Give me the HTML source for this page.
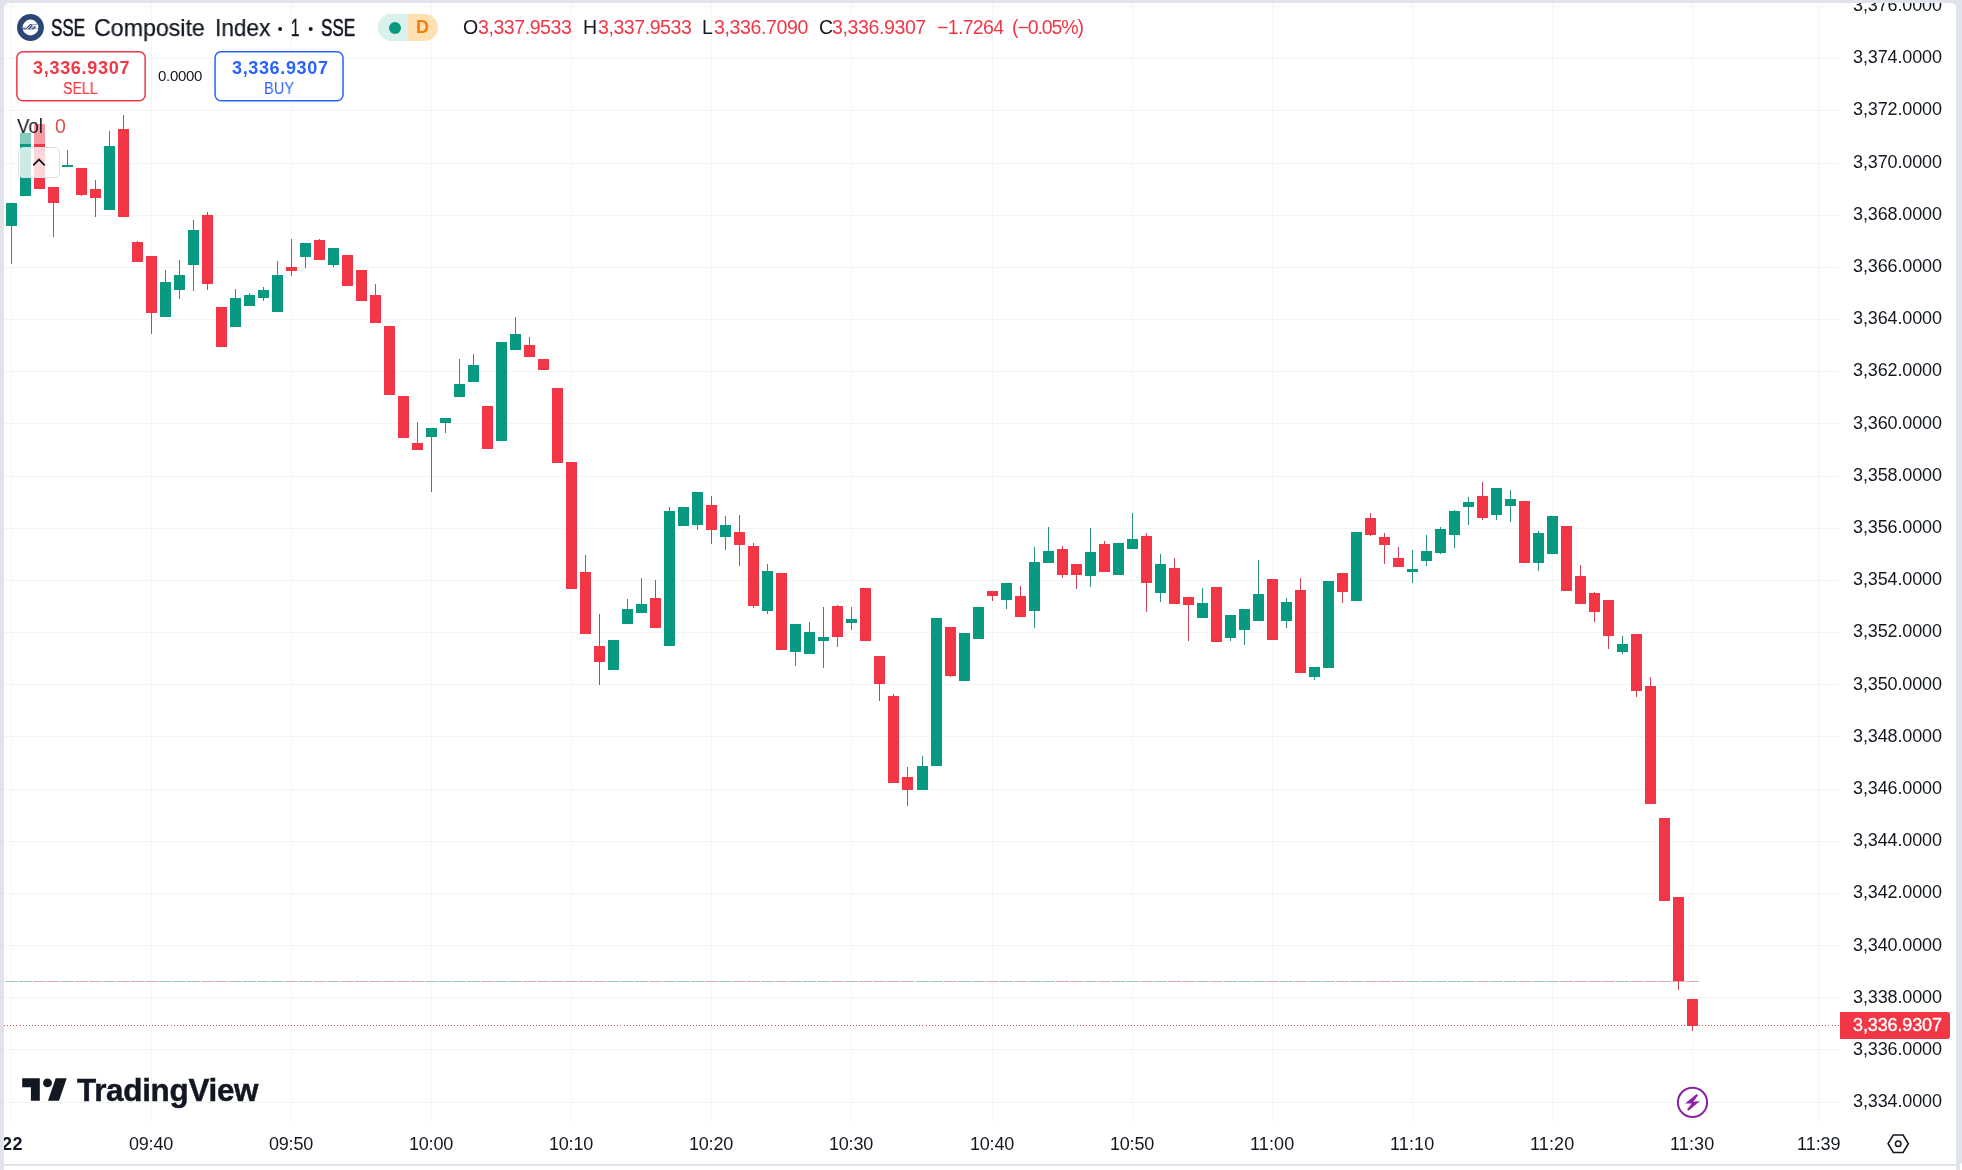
<!DOCTYPE html>
<html lang="en"><head><meta charset="utf-8"><title>SSE Composite Index chart</title>
<style>
html,body{margin:0;padding:0}
body{width:1962px;height:1170px;background:#e0e3eb;position:relative;overflow:hidden;font-family:"Liberation Sans",sans-serif;color:#131722}
.t{position:absolute;white-space:nowrap;line-height:1;display:block;will-change:transform}
.abs{position:absolute}
svg{position:absolute;left:0;top:0}
</style></head><body>
<div class="abs" style="left:4px;top:3px;width:1952px;height:1161px;background:#fff;border-radius:5px 5px 0 0"></div>
<div class="abs" style="left:4px;top:1165.5px;width:1952px;height:5px;background:#fff"></div>
<div class="abs" style="left:1959.5px;top:1163px;width:4px;height:8px;background:#fff;border-radius:3px 0 0 0"></div>
<svg width="1962" height="1170" viewBox="0 0 1962 1170" shape-rendering="crispEdges">
<g fill="#f3f4f4">
<rect x="4" y="6" width="1835" height="1"/>
<rect x="4" y="58" width="1835" height="1"/>
<rect x="4" y="110" width="1835" height="1"/>
<rect x="4" y="163" width="1835" height="1"/>
<rect x="4" y="215" width="1835" height="1"/>
<rect x="4" y="267" width="1835" height="1"/>
<rect x="4" y="319" width="1835" height="1"/>
<rect x="4" y="371" width="1835" height="1"/>
<rect x="4" y="423" width="1835" height="1"/>
<rect x="4" y="476" width="1835" height="1"/>
<rect x="4" y="528" width="1835" height="1"/>
<rect x="4" y="580" width="1835" height="1"/>
<rect x="4" y="632" width="1835" height="1"/>
<rect x="4" y="684" width="1835" height="1"/>
<rect x="4" y="736" width="1835" height="1"/>
<rect x="4" y="789" width="1835" height="1"/>
<rect x="4" y="841" width="1835" height="1"/>
<rect x="4" y="893" width="1835" height="1"/>
<rect x="4" y="945" width="1835" height="1"/>
<rect x="4" y="997" width="1835" height="1"/>
<rect x="4" y="1049" width="1835" height="1"/>
<rect x="4" y="1102" width="1835" height="1"/>
<rect x="11" y="3" width="1" height="1119"/>
<rect x="151" y="3" width="1" height="1119"/>
<rect x="291" y="3" width="1" height="1119"/>
<rect x="431" y="3" width="1" height="1119"/>
<rect x="571" y="3" width="1" height="1119"/>
<rect x="711" y="3" width="1" height="1119"/>
<rect x="851" y="3" width="1" height="1119"/>
<rect x="992" y="3" width="1" height="1119"/>
<rect x="1132" y="3" width="1" height="1119"/>
<rect x="1272" y="3" width="1" height="1119"/>
<rect x="1412" y="3" width="1" height="1119"/>
<rect x="1552" y="3" width="1" height="1119"/>
<rect x="1692" y="3" width="1" height="1119"/>
<rect x="1818" y="3" width="1" height="1119"/>
</g>
<rect x="5" y="981" width="13" height="1" fill="#9ac7c0"/>
<rect x="19" y="981" width="13" height="1" fill="#9ac7c0"/>
<rect x="33" y="981" width="13" height="1" fill="#dfaab0"/>
<rect x="47" y="981" width="13" height="1" fill="#dfaab0"/>
<rect x="61" y="981" width="13" height="1" fill="#9ac7c0"/>
<rect x="75" y="981" width="13" height="1" fill="#dfaab0"/>
<rect x="89" y="981" width="13" height="1" fill="#dfaab0"/>
<rect x="103" y="981" width="13" height="1" fill="#9ac7c0"/>
<rect x="117" y="981" width="13" height="1" fill="#dfaab0"/>
<rect x="131" y="981" width="13" height="1" fill="#dfaab0"/>
<rect x="145" y="981" width="13" height="1" fill="#dfaab0"/>
<rect x="159" y="981" width="13" height="1" fill="#9ac7c0"/>
<rect x="173" y="981" width="13" height="1" fill="#9ac7c0"/>
<rect x="187" y="981" width="13" height="1" fill="#9ac7c0"/>
<rect x="201" y="981" width="13" height="1" fill="#dfaab0"/>
<rect x="215" y="981" width="13" height="1" fill="#dfaab0"/>
<rect x="229" y="981" width="13" height="1" fill="#9ac7c0"/>
<rect x="243" y="981" width="13" height="1" fill="#9ac7c0"/>
<rect x="257" y="981" width="13" height="1" fill="#9ac7c0"/>
<rect x="271" y="981" width="13" height="1" fill="#9ac7c0"/>
<rect x="285" y="981" width="13" height="1" fill="#dfaab0"/>
<rect x="299" y="981" width="13" height="1" fill="#9ac7c0"/>
<rect x="313" y="981" width="13" height="1" fill="#dfaab0"/>
<rect x="327" y="981" width="13" height="1" fill="#9ac7c0"/>
<rect x="341" y="981" width="13" height="1" fill="#dfaab0"/>
<rect x="355" y="981" width="13" height="1" fill="#dfaab0"/>
<rect x="369" y="981" width="13" height="1" fill="#dfaab0"/>
<rect x="383" y="981" width="13" height="1" fill="#dfaab0"/>
<rect x="397" y="981" width="13" height="1" fill="#dfaab0"/>
<rect x="411" y="981" width="13" height="1" fill="#dfaab0"/>
<rect x="425" y="981" width="13" height="1" fill="#9ac7c0"/>
<rect x="439" y="981" width="13" height="1" fill="#9ac7c0"/>
<rect x="453" y="981" width="13" height="1" fill="#9ac7c0"/>
<rect x="467" y="981" width="13" height="1" fill="#9ac7c0"/>
<rect x="481" y="981" width="13" height="1" fill="#dfaab0"/>
<rect x="495" y="981" width="13" height="1" fill="#9ac7c0"/>
<rect x="509" y="981" width="13" height="1" fill="#9ac7c0"/>
<rect x="523" y="981" width="13" height="1" fill="#dfaab0"/>
<rect x="537" y="981" width="13" height="1" fill="#dfaab0"/>
<rect x="551" y="981" width="13" height="1" fill="#dfaab0"/>
<rect x="565" y="981" width="13" height="1" fill="#dfaab0"/>
<rect x="579" y="981" width="13" height="1" fill="#dfaab0"/>
<rect x="593" y="981" width="13" height="1" fill="#dfaab0"/>
<rect x="607" y="981" width="13" height="1" fill="#9ac7c0"/>
<rect x="621" y="981" width="13" height="1" fill="#9ac7c0"/>
<rect x="635" y="981" width="13" height="1" fill="#9ac7c0"/>
<rect x="649" y="981" width="13" height="1" fill="#dfaab0"/>
<rect x="663" y="981" width="13" height="1" fill="#9ac7c0"/>
<rect x="677" y="981" width="13" height="1" fill="#9ac7c0"/>
<rect x="691" y="981" width="13" height="1" fill="#9ac7c0"/>
<rect x="705" y="981" width="13" height="1" fill="#dfaab0"/>
<rect x="719" y="981" width="13" height="1" fill="#9ac7c0"/>
<rect x="733" y="981" width="13" height="1" fill="#dfaab0"/>
<rect x="747" y="981" width="13" height="1" fill="#dfaab0"/>
<rect x="761" y="981" width="13" height="1" fill="#9ac7c0"/>
<rect x="775" y="981" width="13" height="1" fill="#dfaab0"/>
<rect x="789" y="981" width="13" height="1" fill="#9ac7c0"/>
<rect x="803" y="981" width="13" height="1" fill="#9ac7c0"/>
<rect x="817" y="981" width="13" height="1" fill="#9ac7c0"/>
<rect x="831" y="981" width="13" height="1" fill="#dfaab0"/>
<rect x="845" y="981" width="13" height="1" fill="#9ac7c0"/>
<rect x="859" y="981" width="13" height="1" fill="#dfaab0"/>
<rect x="873" y="981" width="13" height="1" fill="#dfaab0"/>
<rect x="887" y="981" width="13" height="1" fill="#dfaab0"/>
<rect x="901" y="981" width="13" height="1" fill="#dfaab0"/>
<rect x="916" y="981" width="13" height="1" fill="#9ac7c0"/>
<rect x="930" y="981" width="13" height="1" fill="#9ac7c0"/>
<rect x="944" y="981" width="13" height="1" fill="#dfaab0"/>
<rect x="958" y="981" width="13" height="1" fill="#9ac7c0"/>
<rect x="972" y="981" width="13" height="1" fill="#9ac7c0"/>
<rect x="986" y="981" width="13" height="1" fill="#dfaab0"/>
<rect x="1000" y="981" width="13" height="1" fill="#9ac7c0"/>
<rect x="1014" y="981" width="13" height="1" fill="#dfaab0"/>
<rect x="1028" y="981" width="13" height="1" fill="#9ac7c0"/>
<rect x="1042" y="981" width="13" height="1" fill="#9ac7c0"/>
<rect x="1056" y="981" width="13" height="1" fill="#dfaab0"/>
<rect x="1070" y="981" width="13" height="1" fill="#dfaab0"/>
<rect x="1084" y="981" width="13" height="1" fill="#9ac7c0"/>
<rect x="1098" y="981" width="13" height="1" fill="#dfaab0"/>
<rect x="1112" y="981" width="13" height="1" fill="#9ac7c0"/>
<rect x="1126" y="981" width="13" height="1" fill="#9ac7c0"/>
<rect x="1140" y="981" width="13" height="1" fill="#dfaab0"/>
<rect x="1154" y="981" width="13" height="1" fill="#9ac7c0"/>
<rect x="1168" y="981" width="13" height="1" fill="#dfaab0"/>
<rect x="1182" y="981" width="13" height="1" fill="#dfaab0"/>
<rect x="1196" y="981" width="13" height="1" fill="#9ac7c0"/>
<rect x="1210" y="981" width="13" height="1" fill="#dfaab0"/>
<rect x="1224" y="981" width="13" height="1" fill="#9ac7c0"/>
<rect x="1238" y="981" width="13" height="1" fill="#9ac7c0"/>
<rect x="1252" y="981" width="13" height="1" fill="#9ac7c0"/>
<rect x="1266" y="981" width="13" height="1" fill="#dfaab0"/>
<rect x="1280" y="981" width="13" height="1" fill="#9ac7c0"/>
<rect x="1294" y="981" width="13" height="1" fill="#dfaab0"/>
<rect x="1308" y="981" width="13" height="1" fill="#9ac7c0"/>
<rect x="1322" y="981" width="13" height="1" fill="#9ac7c0"/>
<rect x="1336" y="981" width="13" height="1" fill="#dfaab0"/>
<rect x="1350" y="981" width="13" height="1" fill="#9ac7c0"/>
<rect x="1364" y="981" width="13" height="1" fill="#dfaab0"/>
<rect x="1378" y="981" width="13" height="1" fill="#dfaab0"/>
<rect x="1392" y="981" width="13" height="1" fill="#dfaab0"/>
<rect x="1406" y="981" width="13" height="1" fill="#9ac7c0"/>
<rect x="1420" y="981" width="13" height="1" fill="#9ac7c0"/>
<rect x="1434" y="981" width="13" height="1" fill="#9ac7c0"/>
<rect x="1448" y="981" width="13" height="1" fill="#9ac7c0"/>
<rect x="1462" y="981" width="13" height="1" fill="#9ac7c0"/>
<rect x="1476" y="981" width="13" height="1" fill="#dfaab0"/>
<rect x="1490" y="981" width="13" height="1" fill="#9ac7c0"/>
<rect x="1504" y="981" width="13" height="1" fill="#9ac7c0"/>
<rect x="1518" y="981" width="13" height="1" fill="#dfaab0"/>
<rect x="1532" y="981" width="13" height="1" fill="#9ac7c0"/>
<rect x="1546" y="981" width="13" height="1" fill="#9ac7c0"/>
<rect x="1560" y="981" width="13" height="1" fill="#dfaab0"/>
<rect x="1574" y="981" width="13" height="1" fill="#dfaab0"/>
<rect x="1588" y="981" width="13" height="1" fill="#dfaab0"/>
<rect x="1602" y="981" width="13" height="1" fill="#dfaab0"/>
<rect x="1616" y="981" width="13" height="1" fill="#9ac7c0"/>
<rect x="1630" y="981" width="13" height="1" fill="#dfaab0"/>
<rect x="1644" y="981" width="13" height="1" fill="#dfaab0"/>
<rect x="1658" y="981" width="13" height="1" fill="#dfaab0"/>
<rect x="1672" y="981" width="13" height="1" fill="#dfaab0"/>
<rect x="1686" y="981" width="13" height="1" fill="#dfaab0"/>
<g fill="#089981">
<rect x="11" y="226" width="1" height="38" fill="#2a8f7c"/>
<rect x="6" y="203" width="11" height="23"/>
<rect x="20" y="133" width="11" height="63"/>
<rect x="67" y="150" width="1" height="15" fill="#2a8f7c"/>
<rect x="62" y="165" width="11" height="2"/>
<rect x="109" y="131" width="1" height="15" fill="#2a8f7c"/>
<rect x="104" y="146" width="11" height="64"/>
<rect x="165" y="270" width="1" height="12" fill="#2a8f7c"/>
<rect x="160" y="282" width="11" height="35"/>
<rect x="179" y="260" width="1" height="15" fill="#2a8f7c"/>
<rect x="179" y="290" width="1" height="9" fill="#2a8f7c"/>
<rect x="174" y="275" width="11" height="15"/>
<rect x="193" y="220" width="1" height="10" fill="#2a8f7c"/>
<rect x="193" y="265" width="1" height="26" fill="#2a8f7c"/>
<rect x="188" y="230" width="11" height="35"/>
<rect x="235" y="289" width="1" height="9" fill="#2a8f7c"/>
<rect x="230" y="298" width="11" height="29"/>
<rect x="249" y="293" width="1" height="2" fill="#2a8f7c"/>
<rect x="244" y="295" width="11" height="11"/>
<rect x="263" y="287" width="1" height="3" fill="#2a8f7c"/>
<rect x="263" y="298" width="1" height="3" fill="#2a8f7c"/>
<rect x="258" y="290" width="11" height="8"/>
<rect x="277" y="261" width="1" height="14" fill="#2a8f7c"/>
<rect x="272" y="275" width="11" height="37"/>
<rect x="305" y="257" width="1" height="11" fill="#2a8f7c"/>
<rect x="300" y="243" width="11" height="14"/>
<rect x="333" y="265" width="1" height="2" fill="#2a8f7c"/>
<rect x="328" y="248" width="11" height="17"/>
<rect x="431" y="437" width="1" height="55" fill="#2a8f7c"/>
<rect x="426" y="428" width="11" height="9"/>
<rect x="445" y="423" width="1" height="10" fill="#2a8f7c"/>
<rect x="440" y="418" width="11" height="5"/>
<rect x="459" y="359" width="1" height="25" fill="#2a8f7c"/>
<rect x="454" y="384" width="11" height="13"/>
<rect x="473" y="354" width="1" height="11" fill="#2a8f7c"/>
<rect x="468" y="365" width="11" height="17"/>
<rect x="496" y="342" width="11" height="99"/>
<rect x="515" y="317" width="1" height="17" fill="#2a8f7c"/>
<rect x="510" y="334" width="11" height="16"/>
<rect x="608" y="640" width="11" height="30"/>
<rect x="627" y="599" width="1" height="10" fill="#2a8f7c"/>
<rect x="622" y="609" width="11" height="15"/>
<rect x="641" y="578" width="1" height="26" fill="#2a8f7c"/>
<rect x="636" y="604" width="11" height="9"/>
<rect x="669" y="507" width="1" height="4" fill="#2a8f7c"/>
<rect x="664" y="511" width="11" height="135"/>
<rect x="678" y="507" width="11" height="19"/>
<rect x="697" y="525" width="1" height="5" fill="#2a8f7c"/>
<rect x="692" y="492" width="11" height="33"/>
<rect x="725" y="516" width="1" height="9" fill="#2a8f7c"/>
<rect x="725" y="537" width="1" height="13" fill="#2a8f7c"/>
<rect x="720" y="525" width="11" height="12"/>
<rect x="767" y="564" width="1" height="7" fill="#2a8f7c"/>
<rect x="767" y="611" width="1" height="3" fill="#2a8f7c"/>
<rect x="762" y="571" width="11" height="40"/>
<rect x="795" y="652" width="1" height="14" fill="#2a8f7c"/>
<rect x="790" y="624" width="11" height="28"/>
<rect x="809" y="622" width="1" height="10" fill="#2a8f7c"/>
<rect x="804" y="632" width="11" height="22"/>
<rect x="823" y="607" width="1" height="30" fill="#2a8f7c"/>
<rect x="823" y="641" width="1" height="27" fill="#2a8f7c"/>
<rect x="818" y="637" width="11" height="4"/>
<rect x="851" y="607" width="1" height="12" fill="#2a8f7c"/>
<rect x="851" y="623" width="1" height="7" fill="#2a8f7c"/>
<rect x="846" y="619" width="11" height="4"/>
<rect x="922" y="756" width="1" height="10" fill="#2a8f7c"/>
<rect x="917" y="766" width="11" height="24"/>
<rect x="931" y="618" width="11" height="148"/>
<rect x="959" y="633" width="11" height="48"/>
<rect x="973" y="607" width="11" height="32"/>
<rect x="1006" y="600" width="1" height="9" fill="#2a8f7c"/>
<rect x="1001" y="583" width="11" height="17"/>
<rect x="1034" y="547" width="1" height="15" fill="#2a8f7c"/>
<rect x="1034" y="611" width="1" height="17" fill="#2a8f7c"/>
<rect x="1029" y="562" width="11" height="49"/>
<rect x="1048" y="527" width="1" height="24" fill="#2a8f7c"/>
<rect x="1043" y="551" width="11" height="12"/>
<rect x="1090" y="528" width="1" height="24" fill="#2a8f7c"/>
<rect x="1090" y="576" width="1" height="11" fill="#2a8f7c"/>
<rect x="1085" y="552" width="11" height="24"/>
<rect x="1113" y="543" width="11" height="32"/>
<rect x="1132" y="513" width="1" height="26" fill="#2a8f7c"/>
<rect x="1127" y="539" width="11" height="10"/>
<rect x="1160" y="554" width="1" height="10" fill="#2a8f7c"/>
<rect x="1160" y="593" width="1" height="9" fill="#2a8f7c"/>
<rect x="1155" y="564" width="11" height="29"/>
<rect x="1202" y="588" width="1" height="15" fill="#2a8f7c"/>
<rect x="1197" y="603" width="11" height="15"/>
<rect x="1230" y="638" width="1" height="3" fill="#2a8f7c"/>
<rect x="1225" y="615" width="11" height="23"/>
<rect x="1244" y="630" width="1" height="15" fill="#2a8f7c"/>
<rect x="1239" y="609" width="11" height="21"/>
<rect x="1258" y="560" width="1" height="34" fill="#2a8f7c"/>
<rect x="1253" y="594" width="11" height="27"/>
<rect x="1286" y="598" width="1" height="4" fill="#2a8f7c"/>
<rect x="1286" y="621" width="1" height="7" fill="#2a8f7c"/>
<rect x="1281" y="602" width="11" height="19"/>
<rect x="1314" y="677" width="1" height="3" fill="#2a8f7c"/>
<rect x="1309" y="667" width="11" height="10"/>
<rect x="1323" y="581" width="11" height="87"/>
<rect x="1351" y="532" width="11" height="69"/>
<rect x="1412" y="550" width="1" height="19" fill="#2a8f7c"/>
<rect x="1412" y="572" width="1" height="11" fill="#2a8f7c"/>
<rect x="1407" y="569" width="11" height="3"/>
<rect x="1426" y="535" width="1" height="16" fill="#2a8f7c"/>
<rect x="1426" y="561" width="1" height="5" fill="#2a8f7c"/>
<rect x="1421" y="551" width="11" height="10"/>
<rect x="1440" y="527" width="1" height="2" fill="#2a8f7c"/>
<rect x="1440" y="553" width="1" height="1" fill="#2a8f7c"/>
<rect x="1435" y="529" width="11" height="24"/>
<rect x="1454" y="510" width="1" height="1" fill="#2a8f7c"/>
<rect x="1454" y="535" width="1" height="13" fill="#2a8f7c"/>
<rect x="1449" y="511" width="11" height="24"/>
<rect x="1468" y="497" width="1" height="5" fill="#2a8f7c"/>
<rect x="1468" y="507" width="1" height="18" fill="#2a8f7c"/>
<rect x="1463" y="502" width="11" height="5"/>
<rect x="1496" y="515" width="1" height="5" fill="#2a8f7c"/>
<rect x="1491" y="488" width="11" height="27"/>
<rect x="1510" y="490" width="1" height="9" fill="#2a8f7c"/>
<rect x="1510" y="506" width="1" height="16" fill="#2a8f7c"/>
<rect x="1505" y="499" width="11" height="7"/>
<rect x="1538" y="531" width="1" height="2" fill="#2a8f7c"/>
<rect x="1538" y="563" width="1" height="8" fill="#2a8f7c"/>
<rect x="1533" y="533" width="11" height="30"/>
<rect x="1547" y="516" width="11" height="38"/>
<rect x="1622" y="636" width="1" height="8" fill="#2a8f7c"/>
<rect x="1622" y="652" width="1" height="2" fill="#2a8f7c"/>
<rect x="1617" y="644" width="11" height="8"/>
</g>
<g fill="#f23645">
<rect x="34" y="124" width="11" height="65"/>
<rect x="53" y="203" width="1" height="34" fill="#cc4256"/>
<rect x="48" y="187" width="11" height="16"/>
<rect x="81" y="195" width="1" height="1" fill="#cc4256"/>
<rect x="76" y="168" width="11" height="27"/>
<rect x="95" y="180" width="1" height="9" fill="#cc4256"/>
<rect x="95" y="198" width="1" height="19" fill="#cc4256"/>
<rect x="90" y="189" width="11" height="9"/>
<rect x="123" y="115" width="1" height="14" fill="#cc4256"/>
<rect x="118" y="129" width="11" height="88"/>
<rect x="137" y="241" width="1" height="1" fill="#cc4256"/>
<rect x="132" y="242" width="11" height="20"/>
<rect x="151" y="313" width="1" height="21" fill="#cc4256"/>
<rect x="146" y="256" width="11" height="57"/>
<rect x="207" y="212" width="1" height="3" fill="#cc4256"/>
<rect x="207" y="284" width="1" height="6" fill="#cc4256"/>
<rect x="202" y="215" width="11" height="69"/>
<rect x="216" y="307" width="11" height="40"/>
<rect x="291" y="239" width="1" height="28" fill="#cc4256"/>
<rect x="291" y="271" width="1" height="5" fill="#cc4256"/>
<rect x="286" y="267" width="11" height="4"/>
<rect x="319" y="239" width="1" height="1" fill="#cc4256"/>
<rect x="314" y="240" width="11" height="20"/>
<rect x="342" y="255" width="11" height="31"/>
<rect x="356" y="270" width="11" height="31"/>
<rect x="375" y="284" width="1" height="11" fill="#cc4256"/>
<rect x="370" y="295" width="11" height="28"/>
<rect x="384" y="326" width="11" height="69"/>
<rect x="398" y="396" width="11" height="42"/>
<rect x="417" y="422" width="1" height="21" fill="#cc4256"/>
<rect x="412" y="443" width="11" height="7"/>
<rect x="482" y="406" width="11" height="43"/>
<rect x="529" y="337" width="1" height="8" fill="#cc4256"/>
<rect x="524" y="345" width="11" height="12"/>
<rect x="538" y="359" width="11" height="11"/>
<rect x="552" y="388" width="11" height="75"/>
<rect x="566" y="462" width="11" height="127"/>
<rect x="585" y="555" width="1" height="17" fill="#cc4256"/>
<rect x="580" y="572" width="11" height="62"/>
<rect x="599" y="614" width="1" height="32" fill="#cc4256"/>
<rect x="599" y="662" width="1" height="23" fill="#cc4256"/>
<rect x="594" y="646" width="11" height="16"/>
<rect x="655" y="580" width="1" height="18" fill="#cc4256"/>
<rect x="650" y="598" width="11" height="30"/>
<rect x="711" y="496" width="1" height="9" fill="#cc4256"/>
<rect x="711" y="530" width="1" height="14" fill="#cc4256"/>
<rect x="706" y="505" width="11" height="25"/>
<rect x="739" y="515" width="1" height="17" fill="#cc4256"/>
<rect x="739" y="545" width="1" height="21" fill="#cc4256"/>
<rect x="734" y="532" width="11" height="13"/>
<rect x="753" y="543" width="1" height="3" fill="#cc4256"/>
<rect x="753" y="606" width="1" height="2" fill="#cc4256"/>
<rect x="748" y="546" width="11" height="60"/>
<rect x="776" y="573" width="11" height="77"/>
<rect x="837" y="605" width="1" height="1" fill="#cc4256"/>
<rect x="837" y="637" width="1" height="10" fill="#cc4256"/>
<rect x="832" y="606" width="11" height="31"/>
<rect x="860" y="588" width="11" height="53"/>
<rect x="879" y="684" width="1" height="17" fill="#cc4256"/>
<rect x="874" y="656" width="11" height="28"/>
<rect x="893" y="694" width="1" height="2" fill="#cc4256"/>
<rect x="888" y="696" width="11" height="87"/>
<rect x="907" y="767" width="1" height="10" fill="#cc4256"/>
<rect x="907" y="790" width="1" height="16" fill="#cc4256"/>
<rect x="902" y="777" width="11" height="13"/>
<rect x="950" y="676" width="1" height="1" fill="#cc4256"/>
<rect x="945" y="627" width="11" height="49"/>
<rect x="992" y="596" width="1" height="5" fill="#cc4256"/>
<rect x="987" y="591" width="11" height="5"/>
<rect x="1020" y="586" width="1" height="10" fill="#cc4256"/>
<rect x="1015" y="596" width="11" height="21"/>
<rect x="1062" y="546" width="1" height="3" fill="#cc4256"/>
<rect x="1062" y="575" width="1" height="3" fill="#cc4256"/>
<rect x="1057" y="549" width="11" height="26"/>
<rect x="1076" y="575" width="1" height="14" fill="#cc4256"/>
<rect x="1071" y="564" width="11" height="11"/>
<rect x="1104" y="541" width="1" height="3" fill="#cc4256"/>
<rect x="1099" y="544" width="11" height="28"/>
<rect x="1146" y="533" width="1" height="3" fill="#cc4256"/>
<rect x="1146" y="583" width="1" height="29" fill="#cc4256"/>
<rect x="1141" y="536" width="11" height="47"/>
<rect x="1174" y="558" width="1" height="10" fill="#cc4256"/>
<rect x="1169" y="568" width="11" height="36"/>
<rect x="1188" y="605" width="1" height="36" fill="#cc4256"/>
<rect x="1183" y="597" width="11" height="8"/>
<rect x="1211" y="587" width="11" height="55"/>
<rect x="1267" y="579" width="11" height="61"/>
<rect x="1300" y="578" width="1" height="12" fill="#cc4256"/>
<rect x="1295" y="590" width="11" height="83"/>
<rect x="1342" y="592" width="1" height="11" fill="#cc4256"/>
<rect x="1337" y="573" width="11" height="19"/>
<rect x="1370" y="513" width="1" height="5" fill="#cc4256"/>
<rect x="1370" y="535" width="1" height="1" fill="#cc4256"/>
<rect x="1365" y="518" width="11" height="17"/>
<rect x="1384" y="533" width="1" height="4" fill="#cc4256"/>
<rect x="1384" y="545" width="1" height="19" fill="#cc4256"/>
<rect x="1379" y="537" width="11" height="8"/>
<rect x="1398" y="547" width="1" height="11" fill="#cc4256"/>
<rect x="1393" y="558" width="11" height="9"/>
<rect x="1482" y="482" width="1" height="14" fill="#cc4256"/>
<rect x="1482" y="518" width="1" height="2" fill="#cc4256"/>
<rect x="1477" y="496" width="11" height="22"/>
<rect x="1519" y="501" width="11" height="62"/>
<rect x="1561" y="526" width="11" height="65"/>
<rect x="1580" y="565" width="1" height="11" fill="#cc4256"/>
<rect x="1575" y="576" width="11" height="28"/>
<rect x="1594" y="592" width="1" height="1" fill="#cc4256"/>
<rect x="1594" y="612" width="1" height="10" fill="#cc4256"/>
<rect x="1589" y="593" width="11" height="19"/>
<rect x="1608" y="636" width="1" height="13" fill="#cc4256"/>
<rect x="1603" y="600" width="11" height="36"/>
<rect x="1636" y="691" width="1" height="6" fill="#cc4256"/>
<rect x="1631" y="634" width="11" height="57"/>
<rect x="1650" y="677" width="1" height="9" fill="#cc4256"/>
<rect x="1645" y="686" width="11" height="118"/>
<rect x="1659" y="818" width="11" height="83"/>
<rect x="1678" y="981" width="1" height="9" fill="#cc4256"/>
<rect x="1673" y="897" width="11" height="84"/>
<rect x="1692" y="1026" width="1" height="5" fill="#cc4256"/>
<rect x="1687" y="999" width="11" height="27"/>
</g>
<g fill="#c9525f">
<rect x="4.40" y="1025" width="1" height="1"/>
<rect x="7.42" y="1025" width="1" height="1"/>
<rect x="10.44" y="1025" width="1" height="1"/>
<rect x="13.46" y="1025" width="1" height="1"/>
<rect x="16.48" y="1025" width="1" height="1"/>
<rect x="19.50" y="1025" width="1" height="1"/>
<rect x="22.52" y="1025" width="1" height="1"/>
<rect x="25.54" y="1025" width="1" height="1"/>
<rect x="28.56" y="1025" width="1" height="1"/>
<rect x="31.58" y="1025" width="1" height="1"/>
<rect x="34.60" y="1025" width="1" height="1"/>
<rect x="37.62" y="1025" width="1" height="1"/>
<rect x="40.64" y="1025" width="1" height="1"/>
<rect x="43.66" y="1025" width="1" height="1"/>
<rect x="46.68" y="1025" width="1" height="1"/>
<rect x="49.70" y="1025" width="1" height="1"/>
<rect x="52.72" y="1025" width="1" height="1"/>
<rect x="55.74" y="1025" width="1" height="1"/>
<rect x="58.76" y="1025" width="1" height="1"/>
<rect x="61.78" y="1025" width="1" height="1"/>
<rect x="64.80" y="1025" width="1" height="1"/>
<rect x="67.82" y="1025" width="1" height="1"/>
<rect x="70.84" y="1025" width="1" height="1"/>
<rect x="73.86" y="1025" width="1" height="1"/>
<rect x="76.88" y="1025" width="1" height="1"/>
<rect x="79.90" y="1025" width="1" height="1"/>
<rect x="82.92" y="1025" width="1" height="1"/>
<rect x="85.94" y="1025" width="1" height="1"/>
<rect x="88.96" y="1025" width="1" height="1"/>
<rect x="91.98" y="1025" width="1" height="1"/>
<rect x="95.00" y="1025" width="1" height="1"/>
<rect x="98.02" y="1025" width="1" height="1"/>
<rect x="101.04" y="1025" width="1" height="1"/>
<rect x="104.06" y="1025" width="1" height="1"/>
<rect x="107.08" y="1025" width="1" height="1"/>
<rect x="110.10" y="1025" width="1" height="1"/>
<rect x="113.12" y="1025" width="1" height="1"/>
<rect x="116.14" y="1025" width="1" height="1"/>
<rect x="119.16" y="1025" width="1" height="1"/>
<rect x="122.18" y="1025" width="1" height="1"/>
<rect x="125.20" y="1025" width="1" height="1"/>
<rect x="128.22" y="1025" width="1" height="1"/>
<rect x="131.24" y="1025" width="1" height="1"/>
<rect x="134.26" y="1025" width="1" height="1"/>
<rect x="137.28" y="1025" width="1" height="1"/>
<rect x="140.30" y="1025" width="1" height="1"/>
<rect x="143.32" y="1025" width="1" height="1"/>
<rect x="146.34" y="1025" width="1" height="1"/>
<rect x="149.36" y="1025" width="1" height="1"/>
<rect x="152.38" y="1025" width="1" height="1"/>
<rect x="155.40" y="1025" width="1" height="1"/>
<rect x="158.42" y="1025" width="1" height="1"/>
<rect x="161.44" y="1025" width="1" height="1"/>
<rect x="164.46" y="1025" width="1" height="1"/>
<rect x="167.48" y="1025" width="1" height="1"/>
<rect x="170.50" y="1025" width="1" height="1"/>
<rect x="173.52" y="1025" width="1" height="1"/>
<rect x="176.54" y="1025" width="1" height="1"/>
<rect x="179.56" y="1025" width="1" height="1"/>
<rect x="182.58" y="1025" width="1" height="1"/>
<rect x="185.60" y="1025" width="1" height="1"/>
<rect x="188.62" y="1025" width="1" height="1"/>
<rect x="191.64" y="1025" width="1" height="1"/>
<rect x="194.66" y="1025" width="1" height="1"/>
<rect x="197.68" y="1025" width="1" height="1"/>
<rect x="200.70" y="1025" width="1" height="1"/>
<rect x="203.72" y="1025" width="1" height="1"/>
<rect x="206.74" y="1025" width="1" height="1"/>
<rect x="209.76" y="1025" width="1" height="1"/>
<rect x="212.78" y="1025" width="1" height="1"/>
<rect x="215.80" y="1025" width="1" height="1"/>
<rect x="218.82" y="1025" width="1" height="1"/>
<rect x="221.84" y="1025" width="1" height="1"/>
<rect x="224.86" y="1025" width="1" height="1"/>
<rect x="227.88" y="1025" width="1" height="1"/>
<rect x="230.90" y="1025" width="1" height="1"/>
<rect x="233.92" y="1025" width="1" height="1"/>
<rect x="236.94" y="1025" width="1" height="1"/>
<rect x="239.96" y="1025" width="1" height="1"/>
<rect x="242.98" y="1025" width="1" height="1"/>
<rect x="246.00" y="1025" width="1" height="1"/>
<rect x="249.02" y="1025" width="1" height="1"/>
<rect x="252.04" y="1025" width="1" height="1"/>
<rect x="255.06" y="1025" width="1" height="1"/>
<rect x="258.08" y="1025" width="1" height="1"/>
<rect x="261.10" y="1025" width="1" height="1"/>
<rect x="264.12" y="1025" width="1" height="1"/>
<rect x="267.14" y="1025" width="1" height="1"/>
<rect x="270.16" y="1025" width="1" height="1"/>
<rect x="273.18" y="1025" width="1" height="1"/>
<rect x="276.20" y="1025" width="1" height="1"/>
<rect x="279.22" y="1025" width="1" height="1"/>
<rect x="282.24" y="1025" width="1" height="1"/>
<rect x="285.26" y="1025" width="1" height="1"/>
<rect x="288.28" y="1025" width="1" height="1"/>
<rect x="291.30" y="1025" width="1" height="1"/>
<rect x="294.32" y="1025" width="1" height="1"/>
<rect x="297.34" y="1025" width="1" height="1"/>
<rect x="300.36" y="1025" width="1" height="1"/>
<rect x="303.38" y="1025" width="1" height="1"/>
<rect x="306.40" y="1025" width="1" height="1"/>
<rect x="309.42" y="1025" width="1" height="1"/>
<rect x="312.44" y="1025" width="1" height="1"/>
<rect x="315.46" y="1025" width="1" height="1"/>
<rect x="318.48" y="1025" width="1" height="1"/>
<rect x="321.50" y="1025" width="1" height="1"/>
<rect x="324.52" y="1025" width="1" height="1"/>
<rect x="327.54" y="1025" width="1" height="1"/>
<rect x="330.56" y="1025" width="1" height="1"/>
<rect x="333.58" y="1025" width="1" height="1"/>
<rect x="336.60" y="1025" width="1" height="1"/>
<rect x="339.62" y="1025" width="1" height="1"/>
<rect x="342.64" y="1025" width="1" height="1"/>
<rect x="345.66" y="1025" width="1" height="1"/>
<rect x="348.68" y="1025" width="1" height="1"/>
<rect x="351.70" y="1025" width="1" height="1"/>
<rect x="354.72" y="1025" width="1" height="1"/>
<rect x="357.74" y="1025" width="1" height="1"/>
<rect x="360.76" y="1025" width="1" height="1"/>
<rect x="363.78" y="1025" width="1" height="1"/>
<rect x="366.80" y="1025" width="1" height="1"/>
<rect x="369.82" y="1025" width="1" height="1"/>
<rect x="372.84" y="1025" width="1" height="1"/>
<rect x="375.86" y="1025" width="1" height="1"/>
<rect x="378.88" y="1025" width="1" height="1"/>
<rect x="381.90" y="1025" width="1" height="1"/>
<rect x="384.92" y="1025" width="1" height="1"/>
<rect x="387.94" y="1025" width="1" height="1"/>
<rect x="390.96" y="1025" width="1" height="1"/>
<rect x="393.98" y="1025" width="1" height="1"/>
<rect x="397.00" y="1025" width="1" height="1"/>
<rect x="400.02" y="1025" width="1" height="1"/>
<rect x="403.04" y="1025" width="1" height="1"/>
<rect x="406.06" y="1025" width="1" height="1"/>
<rect x="409.08" y="1025" width="1" height="1"/>
<rect x="412.10" y="1025" width="1" height="1"/>
<rect x="415.12" y="1025" width="1" height="1"/>
<rect x="418.14" y="1025" width="1" height="1"/>
<rect x="421.16" y="1025" width="1" height="1"/>
<rect x="424.18" y="1025" width="1" height="1"/>
<rect x="427.20" y="1025" width="1" height="1"/>
<rect x="430.22" y="1025" width="1" height="1"/>
<rect x="433.24" y="1025" width="1" height="1"/>
<rect x="436.26" y="1025" width="1" height="1"/>
<rect x="439.28" y="1025" width="1" height="1"/>
<rect x="442.30" y="1025" width="1" height="1"/>
<rect x="445.32" y="1025" width="1" height="1"/>
<rect x="448.34" y="1025" width="1" height="1"/>
<rect x="451.36" y="1025" width="1" height="1"/>
<rect x="454.38" y="1025" width="1" height="1"/>
<rect x="457.40" y="1025" width="1" height="1"/>
<rect x="460.42" y="1025" width="1" height="1"/>
<rect x="463.44" y="1025" width="1" height="1"/>
<rect x="466.46" y="1025" width="1" height="1"/>
<rect x="469.48" y="1025" width="1" height="1"/>
<rect x="472.50" y="1025" width="1" height="1"/>
<rect x="475.52" y="1025" width="1" height="1"/>
<rect x="478.54" y="1025" width="1" height="1"/>
<rect x="481.56" y="1025" width="1" height="1"/>
<rect x="484.58" y="1025" width="1" height="1"/>
<rect x="487.60" y="1025" width="1" height="1"/>
<rect x="490.62" y="1025" width="1" height="1"/>
<rect x="493.64" y="1025" width="1" height="1"/>
<rect x="496.66" y="1025" width="1" height="1"/>
<rect x="499.68" y="1025" width="1" height="1"/>
<rect x="502.70" y="1025" width="1" height="1"/>
<rect x="505.72" y="1025" width="1" height="1"/>
<rect x="508.74" y="1025" width="1" height="1"/>
<rect x="511.76" y="1025" width="1" height="1"/>
<rect x="514.78" y="1025" width="1" height="1"/>
<rect x="517.80" y="1025" width="1" height="1"/>
<rect x="520.82" y="1025" width="1" height="1"/>
<rect x="523.84" y="1025" width="1" height="1"/>
<rect x="526.86" y="1025" width="1" height="1"/>
<rect x="529.88" y="1025" width="1" height="1"/>
<rect x="532.90" y="1025" width="1" height="1"/>
<rect x="535.92" y="1025" width="1" height="1"/>
<rect x="538.94" y="1025" width="1" height="1"/>
<rect x="541.96" y="1025" width="1" height="1"/>
<rect x="544.98" y="1025" width="1" height="1"/>
<rect x="548.00" y="1025" width="1" height="1"/>
<rect x="551.02" y="1025" width="1" height="1"/>
<rect x="554.04" y="1025" width="1" height="1"/>
<rect x="557.06" y="1025" width="1" height="1"/>
<rect x="560.08" y="1025" width="1" height="1"/>
<rect x="563.10" y="1025" width="1" height="1"/>
<rect x="566.12" y="1025" width="1" height="1"/>
<rect x="569.14" y="1025" width="1" height="1"/>
<rect x="572.16" y="1025" width="1" height="1"/>
<rect x="575.18" y="1025" width="1" height="1"/>
<rect x="578.20" y="1025" width="1" height="1"/>
<rect x="581.22" y="1025" width="1" height="1"/>
<rect x="584.24" y="1025" width="1" height="1"/>
<rect x="587.26" y="1025" width="1" height="1"/>
<rect x="590.28" y="1025" width="1" height="1"/>
<rect x="593.30" y="1025" width="1" height="1"/>
<rect x="596.32" y="1025" width="1" height="1"/>
<rect x="599.34" y="1025" width="1" height="1"/>
<rect x="602.36" y="1025" width="1" height="1"/>
<rect x="605.38" y="1025" width="1" height="1"/>
<rect x="608.40" y="1025" width="1" height="1"/>
<rect x="611.42" y="1025" width="1" height="1"/>
<rect x="614.44" y="1025" width="1" height="1"/>
<rect x="617.46" y="1025" width="1" height="1"/>
<rect x="620.48" y="1025" width="1" height="1"/>
<rect x="623.50" y="1025" width="1" height="1"/>
<rect x="626.52" y="1025" width="1" height="1"/>
<rect x="629.54" y="1025" width="1" height="1"/>
<rect x="632.56" y="1025" width="1" height="1"/>
<rect x="635.58" y="1025" width="1" height="1"/>
<rect x="638.60" y="1025" width="1" height="1"/>
<rect x="641.62" y="1025" width="1" height="1"/>
<rect x="644.64" y="1025" width="1" height="1"/>
<rect x="647.66" y="1025" width="1" height="1"/>
<rect x="650.68" y="1025" width="1" height="1"/>
<rect x="653.70" y="1025" width="1" height="1"/>
<rect x="656.72" y="1025" width="1" height="1"/>
<rect x="659.74" y="1025" width="1" height="1"/>
<rect x="662.76" y="1025" width="1" height="1"/>
<rect x="665.78" y="1025" width="1" height="1"/>
<rect x="668.80" y="1025" width="1" height="1"/>
<rect x="671.82" y="1025" width="1" height="1"/>
<rect x="674.84" y="1025" width="1" height="1"/>
<rect x="677.86" y="1025" width="1" height="1"/>
<rect x="680.88" y="1025" width="1" height="1"/>
<rect x="683.90" y="1025" width="1" height="1"/>
<rect x="686.92" y="1025" width="1" height="1"/>
<rect x="689.94" y="1025" width="1" height="1"/>
<rect x="692.96" y="1025" width="1" height="1"/>
<rect x="695.98" y="1025" width="1" height="1"/>
<rect x="699.00" y="1025" width="1" height="1"/>
<rect x="702.02" y="1025" width="1" height="1"/>
<rect x="705.04" y="1025" width="1" height="1"/>
<rect x="708.06" y="1025" width="1" height="1"/>
<rect x="711.08" y="1025" width="1" height="1"/>
<rect x="714.10" y="1025" width="1" height="1"/>
<rect x="717.12" y="1025" width="1" height="1"/>
<rect x="720.14" y="1025" width="1" height="1"/>
<rect x="723.16" y="1025" width="1" height="1"/>
<rect x="726.18" y="1025" width="1" height="1"/>
<rect x="729.20" y="1025" width="1" height="1"/>
<rect x="732.22" y="1025" width="1" height="1"/>
<rect x="735.24" y="1025" width="1" height="1"/>
<rect x="738.26" y="1025" width="1" height="1"/>
<rect x="741.28" y="1025" width="1" height="1"/>
<rect x="744.30" y="1025" width="1" height="1"/>
<rect x="747.32" y="1025" width="1" height="1"/>
<rect x="750.34" y="1025" width="1" height="1"/>
<rect x="753.36" y="1025" width="1" height="1"/>
<rect x="756.38" y="1025" width="1" height="1"/>
<rect x="759.40" y="1025" width="1" height="1"/>
<rect x="762.42" y="1025" width="1" height="1"/>
<rect x="765.44" y="1025" width="1" height="1"/>
<rect x="768.46" y="1025" width="1" height="1"/>
<rect x="771.48" y="1025" width="1" height="1"/>
<rect x="774.50" y="1025" width="1" height="1"/>
<rect x="777.52" y="1025" width="1" height="1"/>
<rect x="780.54" y="1025" width="1" height="1"/>
<rect x="783.56" y="1025" width="1" height="1"/>
<rect x="786.58" y="1025" width="1" height="1"/>
<rect x="789.60" y="1025" width="1" height="1"/>
<rect x="792.62" y="1025" width="1" height="1"/>
<rect x="795.64" y="1025" width="1" height="1"/>
<rect x="798.66" y="1025" width="1" height="1"/>
<rect x="801.68" y="1025" width="1" height="1"/>
<rect x="804.70" y="1025" width="1" height="1"/>
<rect x="807.72" y="1025" width="1" height="1"/>
<rect x="810.74" y="1025" width="1" height="1"/>
<rect x="813.76" y="1025" width="1" height="1"/>
<rect x="816.78" y="1025" width="1" height="1"/>
<rect x="819.80" y="1025" width="1" height="1"/>
<rect x="822.82" y="1025" width="1" height="1"/>
<rect x="825.84" y="1025" width="1" height="1"/>
<rect x="828.86" y="1025" width="1" height="1"/>
<rect x="831.88" y="1025" width="1" height="1"/>
<rect x="834.90" y="1025" width="1" height="1"/>
<rect x="837.92" y="1025" width="1" height="1"/>
<rect x="840.94" y="1025" width="1" height="1"/>
<rect x="843.96" y="1025" width="1" height="1"/>
<rect x="846.98" y="1025" width="1" height="1"/>
<rect x="850.00" y="1025" width="1" height="1"/>
<rect x="853.02" y="1025" width="1" height="1"/>
<rect x="856.04" y="1025" width="1" height="1"/>
<rect x="859.06" y="1025" width="1" height="1"/>
<rect x="862.08" y="1025" width="1" height="1"/>
<rect x="865.10" y="1025" width="1" height="1"/>
<rect x="868.12" y="1025" width="1" height="1"/>
<rect x="871.14" y="1025" width="1" height="1"/>
<rect x="874.16" y="1025" width="1" height="1"/>
<rect x="877.18" y="1025" width="1" height="1"/>
<rect x="880.20" y="1025" width="1" height="1"/>
<rect x="883.22" y="1025" width="1" height="1"/>
<rect x="886.24" y="1025" width="1" height="1"/>
<rect x="889.26" y="1025" width="1" height="1"/>
<rect x="892.28" y="1025" width="1" height="1"/>
<rect x="895.30" y="1025" width="1" height="1"/>
<rect x="898.32" y="1025" width="1" height="1"/>
<rect x="901.34" y="1025" width="1" height="1"/>
<rect x="904.36" y="1025" width="1" height="1"/>
<rect x="907.38" y="1025" width="1" height="1"/>
<rect x="910.40" y="1025" width="1" height="1"/>
<rect x="913.42" y="1025" width="1" height="1"/>
<rect x="916.44" y="1025" width="1" height="1"/>
<rect x="919.46" y="1025" width="1" height="1"/>
<rect x="922.48" y="1025" width="1" height="1"/>
<rect x="925.50" y="1025" width="1" height="1"/>
<rect x="928.52" y="1025" width="1" height="1"/>
<rect x="931.54" y="1025" width="1" height="1"/>
<rect x="934.56" y="1025" width="1" height="1"/>
<rect x="937.58" y="1025" width="1" height="1"/>
<rect x="940.60" y="1025" width="1" height="1"/>
<rect x="943.62" y="1025" width="1" height="1"/>
<rect x="946.64" y="1025" width="1" height="1"/>
<rect x="949.66" y="1025" width="1" height="1"/>
<rect x="952.68" y="1025" width="1" height="1"/>
<rect x="955.70" y="1025" width="1" height="1"/>
<rect x="958.72" y="1025" width="1" height="1"/>
<rect x="961.74" y="1025" width="1" height="1"/>
<rect x="964.76" y="1025" width="1" height="1"/>
<rect x="967.78" y="1025" width="1" height="1"/>
<rect x="970.80" y="1025" width="1" height="1"/>
<rect x="973.82" y="1025" width="1" height="1"/>
<rect x="976.84" y="1025" width="1" height="1"/>
<rect x="979.86" y="1025" width="1" height="1"/>
<rect x="982.88" y="1025" width="1" height="1"/>
<rect x="985.90" y="1025" width="1" height="1"/>
<rect x="988.92" y="1025" width="1" height="1"/>
<rect x="991.94" y="1025" width="1" height="1"/>
<rect x="994.96" y="1025" width="1" height="1"/>
<rect x="997.98" y="1025" width="1" height="1"/>
<rect x="1001.00" y="1025" width="1" height="1"/>
<rect x="1004.02" y="1025" width="1" height="1"/>
<rect x="1007.04" y="1025" width="1" height="1"/>
<rect x="1010.06" y="1025" width="1" height="1"/>
<rect x="1013.08" y="1025" width="1" height="1"/>
<rect x="1016.10" y="1025" width="1" height="1"/>
<rect x="1019.12" y="1025" width="1" height="1"/>
<rect x="1022.14" y="1025" width="1" height="1"/>
<rect x="1025.16" y="1025" width="1" height="1"/>
<rect x="1028.18" y="1025" width="1" height="1"/>
<rect x="1031.20" y="1025" width="1" height="1"/>
<rect x="1034.22" y="1025" width="1" height="1"/>
<rect x="1037.24" y="1025" width="1" height="1"/>
<rect x="1040.26" y="1025" width="1" height="1"/>
<rect x="1043.28" y="1025" width="1" height="1"/>
<rect x="1046.30" y="1025" width="1" height="1"/>
<rect x="1049.32" y="1025" width="1" height="1"/>
<rect x="1052.34" y="1025" width="1" height="1"/>
<rect x="1055.36" y="1025" width="1" height="1"/>
<rect x="1058.38" y="1025" width="1" height="1"/>
<rect x="1061.40" y="1025" width="1" height="1"/>
<rect x="1064.42" y="1025" width="1" height="1"/>
<rect x="1067.44" y="1025" width="1" height="1"/>
<rect x="1070.46" y="1025" width="1" height="1"/>
<rect x="1073.48" y="1025" width="1" height="1"/>
<rect x="1076.50" y="1025" width="1" height="1"/>
<rect x="1079.52" y="1025" width="1" height="1"/>
<rect x="1082.54" y="1025" width="1" height="1"/>
<rect x="1085.56" y="1025" width="1" height="1"/>
<rect x="1088.58" y="1025" width="1" height="1"/>
<rect x="1091.60" y="1025" width="1" height="1"/>
<rect x="1094.62" y="1025" width="1" height="1"/>
<rect x="1097.64" y="1025" width="1" height="1"/>
<rect x="1100.66" y="1025" width="1" height="1"/>
<rect x="1103.68" y="1025" width="1" height="1"/>
<rect x="1106.70" y="1025" width="1" height="1"/>
<rect x="1109.72" y="1025" width="1" height="1"/>
<rect x="1112.74" y="1025" width="1" height="1"/>
<rect x="1115.76" y="1025" width="1" height="1"/>
<rect x="1118.78" y="1025" width="1" height="1"/>
<rect x="1121.80" y="1025" width="1" height="1"/>
<rect x="1124.82" y="1025" width="1" height="1"/>
<rect x="1127.84" y="1025" width="1" height="1"/>
<rect x="1130.86" y="1025" width="1" height="1"/>
<rect x="1133.88" y="1025" width="1" height="1"/>
<rect x="1136.90" y="1025" width="1" height="1"/>
<rect x="1139.92" y="1025" width="1" height="1"/>
<rect x="1142.94" y="1025" width="1" height="1"/>
<rect x="1145.96" y="1025" width="1" height="1"/>
<rect x="1148.98" y="1025" width="1" height="1"/>
<rect x="1152.00" y="1025" width="1" height="1"/>
<rect x="1155.02" y="1025" width="1" height="1"/>
<rect x="1158.04" y="1025" width="1" height="1"/>
<rect x="1161.06" y="1025" width="1" height="1"/>
<rect x="1164.08" y="1025" width="1" height="1"/>
<rect x="1167.10" y="1025" width="1" height="1"/>
<rect x="1170.12" y="1025" width="1" height="1"/>
<rect x="1173.14" y="1025" width="1" height="1"/>
<rect x="1176.16" y="1025" width="1" height="1"/>
<rect x="1179.18" y="1025" width="1" height="1"/>
<rect x="1182.20" y="1025" width="1" height="1"/>
<rect x="1185.22" y="1025" width="1" height="1"/>
<rect x="1188.24" y="1025" width="1" height="1"/>
<rect x="1191.26" y="1025" width="1" height="1"/>
<rect x="1194.28" y="1025" width="1" height="1"/>
<rect x="1197.30" y="1025" width="1" height="1"/>
<rect x="1200.32" y="1025" width="1" height="1"/>
<rect x="1203.34" y="1025" width="1" height="1"/>
<rect x="1206.36" y="1025" width="1" height="1"/>
<rect x="1209.38" y="1025" width="1" height="1"/>
<rect x="1212.40" y="1025" width="1" height="1"/>
<rect x="1215.42" y="1025" width="1" height="1"/>
<rect x="1218.44" y="1025" width="1" height="1"/>
<rect x="1221.46" y="1025" width="1" height="1"/>
<rect x="1224.48" y="1025" width="1" height="1"/>
<rect x="1227.50" y="1025" width="1" height="1"/>
<rect x="1230.52" y="1025" width="1" height="1"/>
<rect x="1233.54" y="1025" width="1" height="1"/>
<rect x="1236.56" y="1025" width="1" height="1"/>
<rect x="1239.58" y="1025" width="1" height="1"/>
<rect x="1242.60" y="1025" width="1" height="1"/>
<rect x="1245.62" y="1025" width="1" height="1"/>
<rect x="1248.64" y="1025" width="1" height="1"/>
<rect x="1251.66" y="1025" width="1" height="1"/>
<rect x="1254.68" y="1025" width="1" height="1"/>
<rect x="1257.70" y="1025" width="1" height="1"/>
<rect x="1260.72" y="1025" width="1" height="1"/>
<rect x="1263.74" y="1025" width="1" height="1"/>
<rect x="1266.76" y="1025" width="1" height="1"/>
<rect x="1269.78" y="1025" width="1" height="1"/>
<rect x="1272.80" y="1025" width="1" height="1"/>
<rect x="1275.82" y="1025" width="1" height="1"/>
<rect x="1278.84" y="1025" width="1" height="1"/>
<rect x="1281.86" y="1025" width="1" height="1"/>
<rect x="1284.88" y="1025" width="1" height="1"/>
<rect x="1287.90" y="1025" width="1" height="1"/>
<rect x="1290.92" y="1025" width="1" height="1"/>
<rect x="1293.94" y="1025" width="1" height="1"/>
<rect x="1296.96" y="1025" width="1" height="1"/>
<rect x="1299.98" y="1025" width="1" height="1"/>
<rect x="1303.00" y="1025" width="1" height="1"/>
<rect x="1306.02" y="1025" width="1" height="1"/>
<rect x="1309.04" y="1025" width="1" height="1"/>
<rect x="1312.06" y="1025" width="1" height="1"/>
<rect x="1315.08" y="1025" width="1" height="1"/>
<rect x="1318.10" y="1025" width="1" height="1"/>
<rect x="1321.12" y="1025" width="1" height="1"/>
<rect x="1324.14" y="1025" width="1" height="1"/>
<rect x="1327.16" y="1025" width="1" height="1"/>
<rect x="1330.18" y="1025" width="1" height="1"/>
<rect x="1333.20" y="1025" width="1" height="1"/>
<rect x="1336.22" y="1025" width="1" height="1"/>
<rect x="1339.24" y="1025" width="1" height="1"/>
<rect x="1342.26" y="1025" width="1" height="1"/>
<rect x="1345.28" y="1025" width="1" height="1"/>
<rect x="1348.30" y="1025" width="1" height="1"/>
<rect x="1351.32" y="1025" width="1" height="1"/>
<rect x="1354.34" y="1025" width="1" height="1"/>
<rect x="1357.36" y="1025" width="1" height="1"/>
<rect x="1360.38" y="1025" width="1" height="1"/>
<rect x="1363.40" y="1025" width="1" height="1"/>
<rect x="1366.42" y="1025" width="1" height="1"/>
<rect x="1369.44" y="1025" width="1" height="1"/>
<rect x="1372.46" y="1025" width="1" height="1"/>
<rect x="1375.48" y="1025" width="1" height="1"/>
<rect x="1378.50" y="1025" width="1" height="1"/>
<rect x="1381.52" y="1025" width="1" height="1"/>
<rect x="1384.54" y="1025" width="1" height="1"/>
<rect x="1387.56" y="1025" width="1" height="1"/>
<rect x="1390.58" y="1025" width="1" height="1"/>
<rect x="1393.60" y="1025" width="1" height="1"/>
<rect x="1396.62" y="1025" width="1" height="1"/>
<rect x="1399.64" y="1025" width="1" height="1"/>
<rect x="1402.66" y="1025" width="1" height="1"/>
<rect x="1405.68" y="1025" width="1" height="1"/>
<rect x="1408.70" y="1025" width="1" height="1"/>
<rect x="1411.72" y="1025" width="1" height="1"/>
<rect x="1414.74" y="1025" width="1" height="1"/>
<rect x="1417.76" y="1025" width="1" height="1"/>
<rect x="1420.78" y="1025" width="1" height="1"/>
<rect x="1423.80" y="1025" width="1" height="1"/>
<rect x="1426.82" y="1025" width="1" height="1"/>
<rect x="1429.84" y="1025" width="1" height="1"/>
<rect x="1432.86" y="1025" width="1" height="1"/>
<rect x="1435.88" y="1025" width="1" height="1"/>
<rect x="1438.90" y="1025" width="1" height="1"/>
<rect x="1441.92" y="1025" width="1" height="1"/>
<rect x="1444.94" y="1025" width="1" height="1"/>
<rect x="1447.96" y="1025" width="1" height="1"/>
<rect x="1450.98" y="1025" width="1" height="1"/>
<rect x="1454.00" y="1025" width="1" height="1"/>
<rect x="1457.02" y="1025" width="1" height="1"/>
<rect x="1460.04" y="1025" width="1" height="1"/>
<rect x="1463.06" y="1025" width="1" height="1"/>
<rect x="1466.08" y="1025" width="1" height="1"/>
<rect x="1469.10" y="1025" width="1" height="1"/>
<rect x="1472.12" y="1025" width="1" height="1"/>
<rect x="1475.14" y="1025" width="1" height="1"/>
<rect x="1478.16" y="1025" width="1" height="1"/>
<rect x="1481.18" y="1025" width="1" height="1"/>
<rect x="1484.20" y="1025" width="1" height="1"/>
<rect x="1487.22" y="1025" width="1" height="1"/>
<rect x="1490.24" y="1025" width="1" height="1"/>
<rect x="1493.26" y="1025" width="1" height="1"/>
<rect x="1496.28" y="1025" width="1" height="1"/>
<rect x="1499.30" y="1025" width="1" height="1"/>
<rect x="1502.32" y="1025" width="1" height="1"/>
<rect x="1505.34" y="1025" width="1" height="1"/>
<rect x="1508.36" y="1025" width="1" height="1"/>
<rect x="1511.38" y="1025" width="1" height="1"/>
<rect x="1514.40" y="1025" width="1" height="1"/>
<rect x="1517.42" y="1025" width="1" height="1"/>
<rect x="1520.44" y="1025" width="1" height="1"/>
<rect x="1523.46" y="1025" width="1" height="1"/>
<rect x="1526.48" y="1025" width="1" height="1"/>
<rect x="1529.50" y="1025" width="1" height="1"/>
<rect x="1532.52" y="1025" width="1" height="1"/>
<rect x="1535.54" y="1025" width="1" height="1"/>
<rect x="1538.56" y="1025" width="1" height="1"/>
<rect x="1541.58" y="1025" width="1" height="1"/>
<rect x="1544.60" y="1025" width="1" height="1"/>
<rect x="1547.62" y="1025" width="1" height="1"/>
<rect x="1550.64" y="1025" width="1" height="1"/>
<rect x="1553.66" y="1025" width="1" height="1"/>
<rect x="1556.68" y="1025" width="1" height="1"/>
<rect x="1559.70" y="1025" width="1" height="1"/>
<rect x="1562.72" y="1025" width="1" height="1"/>
<rect x="1565.74" y="1025" width="1" height="1"/>
<rect x="1568.76" y="1025" width="1" height="1"/>
<rect x="1571.78" y="1025" width="1" height="1"/>
<rect x="1574.80" y="1025" width="1" height="1"/>
<rect x="1577.82" y="1025" width="1" height="1"/>
<rect x="1580.84" y="1025" width="1" height="1"/>
<rect x="1583.86" y="1025" width="1" height="1"/>
<rect x="1586.88" y="1025" width="1" height="1"/>
<rect x="1589.90" y="1025" width="1" height="1"/>
<rect x="1592.92" y="1025" width="1" height="1"/>
<rect x="1595.94" y="1025" width="1" height="1"/>
<rect x="1598.96" y="1025" width="1" height="1"/>
<rect x="1601.98" y="1025" width="1" height="1"/>
<rect x="1605.00" y="1025" width="1" height="1"/>
<rect x="1608.02" y="1025" width="1" height="1"/>
<rect x="1611.04" y="1025" width="1" height="1"/>
<rect x="1614.06" y="1025" width="1" height="1"/>
<rect x="1617.08" y="1025" width="1" height="1"/>
<rect x="1620.10" y="1025" width="1" height="1"/>
<rect x="1623.12" y="1025" width="1" height="1"/>
<rect x="1626.14" y="1025" width="1" height="1"/>
<rect x="1629.16" y="1025" width="1" height="1"/>
<rect x="1632.18" y="1025" width="1" height="1"/>
<rect x="1635.20" y="1025" width="1" height="1"/>
<rect x="1638.22" y="1025" width="1" height="1"/>
<rect x="1641.24" y="1025" width="1" height="1"/>
<rect x="1644.26" y="1025" width="1" height="1"/>
<rect x="1647.28" y="1025" width="1" height="1"/>
<rect x="1650.30" y="1025" width="1" height="1"/>
<rect x="1653.32" y="1025" width="1" height="1"/>
<rect x="1656.34" y="1025" width="1" height="1"/>
<rect x="1659.36" y="1025" width="1" height="1"/>
<rect x="1662.38" y="1025" width="1" height="1"/>
<rect x="1665.40" y="1025" width="1" height="1"/>
<rect x="1668.42" y="1025" width="1" height="1"/>
<rect x="1671.44" y="1025" width="1" height="1"/>
<rect x="1674.46" y="1025" width="1" height="1"/>
<rect x="1677.48" y="1025" width="1" height="1"/>
<rect x="1680.50" y="1025" width="1" height="1"/>
<rect x="1683.52" y="1025" width="1" height="1"/>
<rect x="1686.54" y="1025" width="1" height="1"/>
<rect x="1698.62" y="1025" width="1" height="1"/>
<rect x="1701.64" y="1025" width="1" height="1"/>
<rect x="1704.66" y="1025" width="1" height="1"/>
<rect x="1707.68" y="1025" width="1" height="1"/>
<rect x="1710.70" y="1025" width="1" height="1"/>
<rect x="1713.72" y="1025" width="1" height="1"/>
<rect x="1716.74" y="1025" width="1" height="1"/>
<rect x="1719.76" y="1025" width="1" height="1"/>
<rect x="1722.78" y="1025" width="1" height="1"/>
<rect x="1725.80" y="1025" width="1" height="1"/>
<rect x="1728.82" y="1025" width="1" height="1"/>
<rect x="1731.84" y="1025" width="1" height="1"/>
<rect x="1734.86" y="1025" width="1" height="1"/>
<rect x="1737.88" y="1025" width="1" height="1"/>
<rect x="1740.90" y="1025" width="1" height="1"/>
<rect x="1743.92" y="1025" width="1" height="1"/>
<rect x="1746.94" y="1025" width="1" height="1"/>
<rect x="1749.96" y="1025" width="1" height="1"/>
<rect x="1752.98" y="1025" width="1" height="1"/>
<rect x="1756.00" y="1025" width="1" height="1"/>
<rect x="1759.02" y="1025" width="1" height="1"/>
<rect x="1762.04" y="1025" width="1" height="1"/>
<rect x="1765.06" y="1025" width="1" height="1"/>
<rect x="1768.08" y="1025" width="1" height="1"/>
<rect x="1771.10" y="1025" width="1" height="1"/>
<rect x="1774.12" y="1025" width="1" height="1"/>
<rect x="1777.14" y="1025" width="1" height="1"/>
<rect x="1780.16" y="1025" width="1" height="1"/>
<rect x="1783.18" y="1025" width="1" height="1"/>
<rect x="1786.20" y="1025" width="1" height="1"/>
<rect x="1789.22" y="1025" width="1" height="1"/>
<rect x="1792.24" y="1025" width="1" height="1"/>
<rect x="1795.26" y="1025" width="1" height="1"/>
<rect x="1798.28" y="1025" width="1" height="1"/>
<rect x="1801.30" y="1025" width="1" height="1"/>
<rect x="1804.32" y="1025" width="1" height="1"/>
<rect x="1807.34" y="1025" width="1" height="1"/>
<rect x="1810.36" y="1025" width="1" height="1"/>
<rect x="1813.38" y="1025" width="1" height="1"/>
<rect x="1816.40" y="1025" width="1" height="1"/>
<rect x="1819.42" y="1025" width="1" height="1"/>
<rect x="1822.44" y="1025" width="1" height="1"/>
<rect x="1825.46" y="1025" width="1" height="1"/>
<rect x="1828.48" y="1025" width="1" height="1"/>
<rect x="1831.50" y="1025" width="1" height="1"/>
<rect x="1834.52" y="1025" width="1" height="1"/>
<rect x="1837.54" y="1025" width="1" height="1"/>
</g>
</svg>
<svg width="1962" height="1170" viewBox="0 0 1962 1170">
<circle cx="30.45" cy="27.5" r="13.45" fill="#2b4677"/>
<circle cx="30.5" cy="27.5" r="7.9" fill="#fff"/>
<g fill="none" stroke="#2b4677" stroke-linecap="butt">
<path d="M23.1 28.25 H26.2 C28.3 28.25 28.7 24.5 30.9 24.5 H32.5" stroke-width="1.15"/>
<path d="M31.5 24.6 L38.3 24.25" stroke-width="1.1" stroke="#97a5c2"/>
<path d="M23.2 29.55 L37.6 28.65" stroke-width="0.9" stroke="#97a5c2"/>
<path d="M28.7 29.3 L31.9 25.4" stroke-width="1.35"/>
<path d="M30.5 29.3 L33.6 25.6" stroke-width="0.9" stroke="#5a6f99"/>
<path d="M32.5 29.3 L35.6 26.6" stroke-width="1.35"/>
</g>
</svg>
<span class="t" style="left:50.71px;top:16px;font-size:24px;color:#131722;transform-origin:0 0;transform:scaleX(0.7102);-webkit-text-stroke:0.61px #131722;">SSE</span>
<span class="t" style="left:94.03px;top:16px;font-size:24px;color:#131722;transform-origin:0 0;transform:scaleX(0.9663);-webkit-text-stroke:0.25px #131722;">Composite</span>
<span class="t" style="left:215.12px;top:16px;font-size:24px;color:#131722;transform-origin:0 0;transform:scaleX(0.9433);-webkit-text-stroke:0.25px #131722;">Index</span>
<span class="t" style="left:290.77px;top:16px;font-size:24px;color:#131722;transform-origin:0 0;transform:scaleX(0.6283);-webkit-text-stroke:0.53px #131722;">1</span>
<span class="t" style="left:320.70px;top:16px;font-size:24px;color:#131722;transform-origin:0 0;transform:scaleX(0.7123);-webkit-text-stroke:0.61px #131722;">SSE</span>
<svg width="1962" height="1170" viewBox="0 0 1962 1170"><circle cx="280.1" cy="29.1" r="2" fill="#131722"/><circle cx="310.7" cy="29.1" r="2" fill="#131722"/></svg>
<div class="abs" style="left:378px;top:14px;width:60px;height:27px;border-radius:13.5px;overflow:hidden;background:#ffe0b2"><div class="abs" style="left:0;top:0;width:30px;height:27px;background:#daf0ec"></div><div class="abs" style="left:11px;top:7.5px;width:12px;height:12px;border-radius:6px;background:#089981"></div></div>
<span class="t" style="left:416.00px;top:18px;font-size:18px;color:#f57c00;letter-spacing:-1.699px;font-weight:700;">D</span>
<span class="t" style="left:462.50px;top:18px;font-size:19.5px;color:#131722;letter-spacing:-2.467px;">O</span>
<span class="t" style="left:478.20px;top:18px;font-size:19.5px;color:#f23645;letter-spacing:-0.422px;">3,337.9533</span>
<span class="t" style="left:582.80px;top:18px;font-size:19.5px;color:#131722;letter-spacing:-2.383px;">H</span>
<span class="t" style="left:597.50px;top:18px;font-size:19.5px;color:#f23645;letter-spacing:-0.422px;">3,337.9533</span>
<span class="t" style="left:702.40px;top:18px;font-size:19.5px;color:#131722;letter-spacing:-1.845px;">L</span>
<span class="t" style="left:714.00px;top:18px;font-size:19.5px;color:#f23645;letter-spacing:-0.355px;">3,336.7090</span>
<span class="t" style="left:818.50px;top:18px;font-size:19.5px;color:#131722;letter-spacing:-3.383px;">C</span>
<span class="t" style="left:832.40px;top:18px;font-size:19.5px;color:#f23645;letter-spacing:-0.377px;">3,336.9307</span>
<span class="t" style="left:937.30px;top:18px;font-size:19.5px;color:#f23645;letter-spacing:-0.672px;">−1.7264</span>
<span class="t" style="left:1012.20px;top:18px;font-size:19.5px;color:#f23645;letter-spacing:-1.081px;">(−0.05%)</span>
<svg width="1962" height="1170" viewBox="0 0 1962 1170"><rect x="16.85" y="51.75" width="128.3" height="49.0" rx="6" fill="#fff" stroke="#f23645" stroke-width="1.5"/><rect x="215.05" y="51.75" width="128.0" height="49.0" rx="6" fill="#fff" stroke="#2962ff" stroke-width="1.5"/></svg>
<span class="t" style="left:33.00px;top:59px;font-size:18px;color:#f23645;letter-spacing:0.701px;font-weight:700;">3,336.9307</span>
<span class="t" style="left:63.37px;top:81px;font-size:16px;color:#f23645;transform-origin:0 0;transform:scaleX(0.8885);-webkit-text-stroke:0.14px #f23645;">SELL</span>
<span class="t" style="left:157.80px;top:68px;font-size:15px;color:#131722;letter-spacing:-0.296px;">0.0000</span>
<span class="t" style="left:231.60px;top:59px;font-size:18px;color:#2962ff;letter-spacing:0.646px;font-weight:700;">3,336.9307</span>
<span class="t" style="left:263.90px;top:81px;font-size:16px;color:#2962ff;transform-origin:0 0;transform:scaleX(0.9124);">BUY</span>
<div class="abs" style="left:14px;top:114px;width:58px;height:30px;background:rgba(255,255,255,0.5)"></div>
<span class="t" style="left:17.00px;top:117px;font-size:19.5px;color:#131722;transform-origin:0 0;transform:scaleX(0.9555);">Vol</span>
<span class="t" style="left:55.30px;top:117px;font-size:19.5px;color:#de5048;letter-spacing:-1.045px;">0</span>
<div class="abs" style="left:18.2px;top:147px;width:39.6px;height:28.5px;border:1px solid #dcdfe6;border-radius:5px;background:rgba(255,255,255,0.8)"></div>
<svg width="1962" height="1170" viewBox="0 0 1962 1170"><path d="M33.2 165.3 L39 159.6 L44.8 165.3" fill="none" stroke="#131722" stroke-width="1.8"/></svg>
<div class="abs" style="left:1840px;top:3px;width:116px;height:1119px;overflow:hidden">
<span class="t" style="left:12.90px;top:-7px;font-size:18px;letter-spacing:-0.132px">3,376.0000</span>
<span class="t" style="left:12.90px;top:45px;font-size:18px;letter-spacing:-0.132px">3,374.0000</span>
<span class="t" style="left:12.90px;top:97px;font-size:18px;letter-spacing:-0.132px">3,372.0000</span>
<span class="t" style="left:12.90px;top:150px;font-size:18px;letter-spacing:-0.132px">3,370.0000</span>
<span class="t" style="left:12.90px;top:202px;font-size:18px;letter-spacing:-0.132px">3,368.0000</span>
<span class="t" style="left:12.90px;top:254px;font-size:18px;letter-spacing:-0.132px">3,366.0000</span>
<span class="t" style="left:12.90px;top:306px;font-size:18px;letter-spacing:-0.132px">3,364.0000</span>
<span class="t" style="left:12.90px;top:358px;font-size:18px;letter-spacing:-0.132px">3,362.0000</span>
<span class="t" style="left:12.90px;top:411px;font-size:18px;letter-spacing:-0.132px">3,360.0000</span>
<span class="t" style="left:12.90px;top:463px;font-size:18px;letter-spacing:-0.132px">3,358.0000</span>
<span class="t" style="left:12.90px;top:515px;font-size:18px;letter-spacing:-0.132px">3,356.0000</span>
<span class="t" style="left:12.90px;top:567px;font-size:18px;letter-spacing:-0.132px">3,354.0000</span>
<span class="t" style="left:12.90px;top:619px;font-size:18px;letter-spacing:-0.132px">3,352.0000</span>
<span class="t" style="left:12.90px;top:672px;font-size:18px;letter-spacing:-0.132px">3,350.0000</span>
<span class="t" style="left:12.90px;top:724px;font-size:18px;letter-spacing:-0.132px">3,348.0000</span>
<span class="t" style="left:12.90px;top:776px;font-size:18px;letter-spacing:-0.132px">3,346.0000</span>
<span class="t" style="left:12.90px;top:828px;font-size:18px;letter-spacing:-0.132px">3,344.0000</span>
<span class="t" style="left:12.90px;top:880px;font-size:18px;letter-spacing:-0.132px">3,342.0000</span>
<span class="t" style="left:12.90px;top:933px;font-size:18px;letter-spacing:-0.132px">3,340.0000</span>
<span class="t" style="left:12.90px;top:985px;font-size:18px;letter-spacing:-0.132px">3,338.0000</span>
<span class="t" style="left:12.90px;top:1037px;font-size:18px;letter-spacing:-0.132px">3,336.0000</span>
<span class="t" style="left:12.90px;top:1089px;font-size:18px;letter-spacing:-0.132px">3,334.0000</span>
</div>
<div class="abs" style="left:1840px;top:1012px;width:110px;height:27px;background:#f23645;border-radius:0 3px 3px 0"></div>
<span class="t" style="left:1852.90px;top:1016px;font-size:18px;color:#fff;letter-spacing:-0.132px;-webkit-text-stroke:0.35px #fff;">3,336.9307</span>
<div class="abs" style="left:4px;top:1125px;width:40px;height:36px;overflow:hidden">
<span class="t" style="left:-2.50px;top:10px;font-size:18px;font-weight:700;letter-spacing:0.578px">22</span>
</div>
<span class="t" style="left:129.40px;top:1135px;font-size:18px;color:#131722;letter-spacing:-0.211px;">09:40</span>
<span class="t" style="left:269.40px;top:1135px;font-size:18px;color:#131722;letter-spacing:-0.211px;">09:50</span>
<span class="t" style="left:409.40px;top:1135px;font-size:18px;color:#131722;letter-spacing:-0.211px;">10:00</span>
<span class="t" style="left:549.40px;top:1135px;font-size:18px;color:#131722;letter-spacing:-0.211px;">10:10</span>
<span class="t" style="left:689.40px;top:1135px;font-size:18px;color:#131722;letter-spacing:-0.211px;">10:20</span>
<span class="t" style="left:829.40px;top:1135px;font-size:18px;color:#131722;letter-spacing:-0.211px;">10:30</span>
<span class="t" style="left:970.40px;top:1135px;font-size:18px;color:#131722;letter-spacing:-0.211px;">10:40</span>
<span class="t" style="left:1110.40px;top:1135px;font-size:18px;color:#131722;letter-spacing:-0.211px;">10:50</span>
<span class="t" style="left:1250.40px;top:1135px;font-size:18px;color:#131722;letter-spacing:0.123px;">11:00</span>
<span class="t" style="left:1390.40px;top:1135px;font-size:18px;color:#131722;letter-spacing:0.123px;">11:10</span>
<span class="t" style="left:1530.40px;top:1135px;font-size:18px;color:#131722;letter-spacing:0.123px;">11:20</span>
<span class="t" style="left:1670.40px;top:1135px;font-size:18px;color:#131722;letter-spacing:0.123px;">11:30</span>
<span class="t" style="left:1796.70px;top:1135px;font-size:18px;color:#131722;letter-spacing:-0.027px;">11:39</span>
<svg width="1962" height="1170" viewBox="0 0 1962 1170">
<path d="M1888.1 1143.7 L1893.3 1135 H1903.1 L1908.3 1143.7 L1903.1 1152.5 H1893.3 Z" fill="none" stroke="#131722" stroke-width="1.6" stroke-linejoin="miter"/>
<circle cx="1898.2" cy="1143.7" r="2.75" fill="none" stroke="#131722" stroke-width="1.5"/>
</svg>
<svg width="1962" height="1170" viewBox="0 0 1962 1170">
<circle cx="1692.5" cy="1102.4" r="17.6" fill="#fff"/>
<circle cx="1692.5" cy="1102.4" r="14.6" fill="#fff" stroke="#8a22a3" stroke-width="2"/>
<path transform="translate(1692.5 1102.4)" d="M4.1 -8.4 L5.5 -7 L0.65 -0.7 L7.4 -1.3 L-4 8.3 L-5.5 7.2 L-0.7 1 L-7.4 1.2 Z" fill="#8a22a3"/>
</svg>
<svg width="1962" height="1170" viewBox="0 0 1962 1170">
<path d="M22.2 1078.3 H39.8 V1100.8 H30.9 V1087.3 H22.2 Z" fill="#131722"/>
<circle cx="47.5" cy="1082.9" r="4.45" fill="#131722"/>
<path d="M55.7 1078.3 H66.7 L59 1100.8 H48 Z" fill="#131722"/>
</svg>
<span class="t" style="left:77.30px;top:1075px;font-size:31.4px;color:#131722;letter-spacing:-0.279px;font-weight:700;-webkit-text-stroke:0.45px #131722;">TradingView</span>
</body></html>
